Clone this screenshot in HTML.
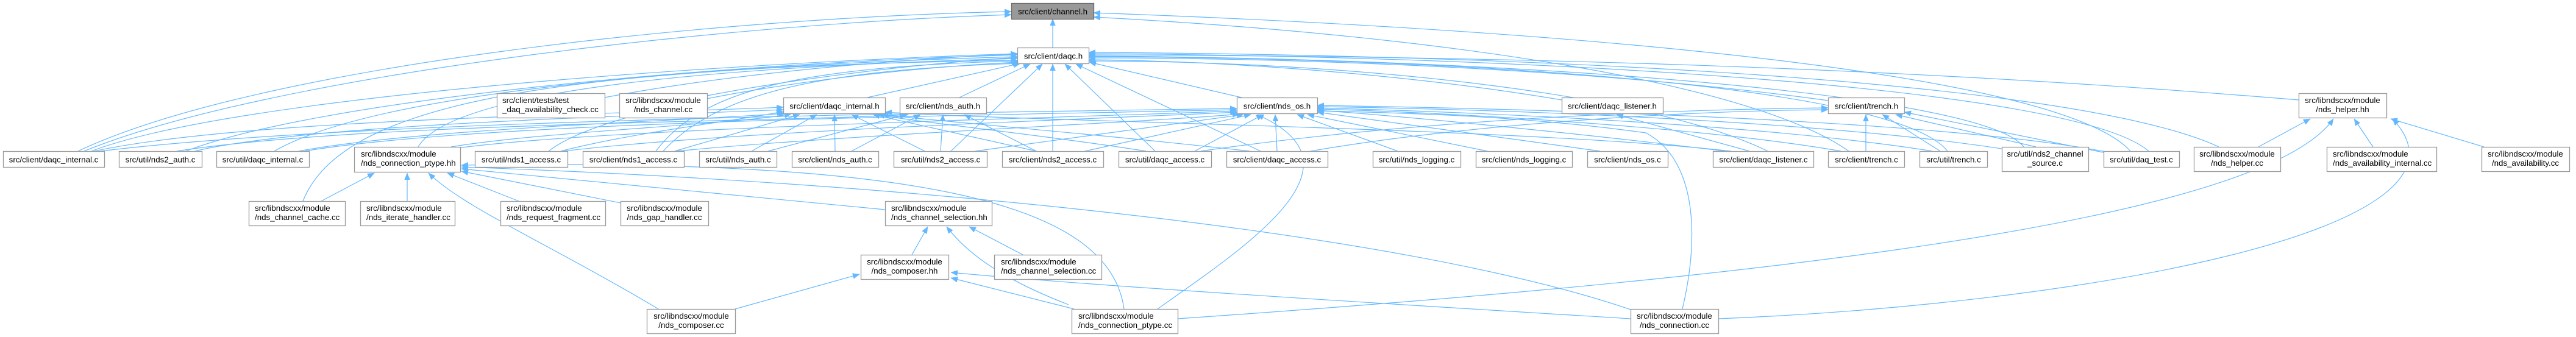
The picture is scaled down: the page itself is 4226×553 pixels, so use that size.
<!DOCTYPE html>
<html>
<head>
<meta charset="utf-8">
<style>
html,body{margin:0;padding:0;background:#fff;}
svg{display:block;}
text{font-family:"Liberation Sans",Arial,sans-serif;font-size:13.33px;fill:#000;}
.b{fill:#fff;stroke:#999;stroke-width:1.3;}
.e{fill:none;stroke:#63b8ff;stroke-width:1.2;marker-end:url(#a);}
</style>
</head>
<body>
<svg width="4226" height="553" viewBox="0 0 4226 553" xmlns="http://www.w3.org/2000/svg">
<defs>
<marker id="a" markerWidth="12" markerHeight="10" refX="11" refY="4.5" orient="auto" markerUnits="userSpaceOnUse">
<path d="M0,0 L11,4.5 L0,9 z" fill="#63b8ff" stroke="#63b8ff" stroke-width="0.5"/>
</marker>
</defs>

<!-- EDGES -->
<g>
<path class="e" d="M1727 78 L1727 31"/>
<path class="e" d="M128 248 C 420 110 1150 30 1659 19"/>
<path class="e" d="M138 248 C 440 125 1170 40 1659 24"/>
<path class="e" d="M3495 248 C 3380 120 2600 50 1794 21"/>
<path class="e" d="M3033 248 C 2880 140 2400 60 1794 28"/>

<path class="e" d="M150 248 C 380 160 1150 105 1669 88"/>
<path class="e" d="M305 248 C 520 165 1150 105 1669 90"/>
<path class="e" d="M450 248 C 620 150 1150 108 1669 93"/>
<path class="e" d="M686 241 C 740 150 1150 110 1669 96"/>
<path class="e" d="M497 330 C 560 170 900 110 1669 99"/>
<path class="e" d="M900 248 C 1000 170 1400 115 1671 102"/>
<path class="e" d="M1076 248 C 1150 150 1300 110 1671 100"/>
<path class="e" d="M1088 248 C 1170 160 1320 115 1673 104"/>
<path class="e" d="M992 160 C 1200 120 1500 95 1669 89"/>
<path class="e" d="M1160 157 C 1300 130 1500 105 1669 94"/>
<path class="e" d="M1423 160 L1674 104"/>
<path class="e" d="M1574 160 L1690 105"/>
<path class="e" d="M1560 248 L1710 105"/>
<path class="e" d="M1727 248 L1727 105"/>
<path class="e" d="M1895 248 L1747 105"/>
<path class="e" d="M2068 248 L1765 105"/>
<path class="e" d="M2037 160 L1787 102"/>
<path class="e" d="M2562 164 C 2300 120 2000 100 1786 98"/>
<path class="e" d="M2999 165 C 2600 110 2100 95 1786 95"/>
<path class="e" d="M3771 164 C 3000 100 2300 92 1786 90"/>
<path class="e" d="M3195 248 C 3110 140 2400 95 1786 93"/>
<path class="e" d="M3320 241 C 3250 150 2450 95 1786 92"/>
<path class="e" d="M3525 248 C 3400 140 2500 92 1786 88"/>
<path class="e" d="M3640 241 C 3400 130 2500 90 1786 86"/>
<path class="e" d="M2900 248 C 2700 150 2200 100 1786 100"/>

<path class="e" d="M155 248 C 400 195 1000 188 1285 176"/>
<path class="e" d="M320 248 C 500 205 1000 192 1285 180"/>
<path class="e" d="M490 248 C 700 210 1100 200 1288 186"/>
<path class="e" d="M740 241 C 900 215 1200 205 1298 187"/>
<path class="e" d="M920 248 C 1050 215 1200 200 1285 183"/>
<path class="e" d="M1107 248 L1312 188"/>
<path class="e" d="M1233 248 L1340 188"/>
<path class="e" d="M1370 248 L1369 188"/>
<path class="e" d="M1517 248 L1397 188"/>
<path class="e" d="M1700 248 L1432 188"/>
<path class="e" d="M1880 248 C 1700 220 1500 200 1440 188"/>
<path class="e" d="M2050 248 C 1800 220 1550 200 1446 188"/>
<path class="e" d="M2840 248 C 2500 210 1700 200 1452 184"/>

<path class="e" d="M290 248 C 600 200 1300 200 1490 188"/>
<path class="e" d="M1260 248 L1487 188"/>
<path class="e" d="M1397 248 L1510 188"/>
<path class="e" d="M1543 248 L1547 188"/>
<path class="e" d="M1700 248 L1582 188"/>

<path class="e" d="M165 248 C 600 195 1600 185 2029 178"/>
<path class="e" d="M500 248 C 800 198 1600 190 2029 180"/>
<path class="e" d="M750 243 C 1000 210 1700 195 2029 182"/>
<path class="e" d="M925 248 C 1200 215 1800 195 2030 184"/>
<path class="e" d="M1110 248 C 1400 220 1900 200 2033 187"/>
<path class="e" d="M1600 248 L2040 188"/>
<path class="e" d="M1780 248 L2052 188"/>
<path class="e" d="M1960 248 L2072 188"/>
<path class="e" d="M2095 248 L2092 188"/>
<path class="e" d="M2293 248 L2128 188"/>
<path class="e" d="M2440 248 L2145 188"/>
<path class="e" d="M2625 248 L2161 184"/>
<path class="e" d="M2830 248 C 2600 220 2300 190 2161 181"/>
<path class="e" d="M3020 248 C 2800 210 2400 185 2161 179"/>
<path class="e" d="M3170 248 C 2900 205 2450 185 2161 177"/>
<path class="e" d="M3290 245 C 3000 200 2500 180 2161 175"/>
<path class="e" d="M3460 250 C 3200 200 2600 180 2161 173"/>
<path class="e" d="M1899 507 C 2050 400 2250 270 2062 188"/>
<path class="e" d="M2760 507 C 2790 380 2780 260 2700 218 C 2500 190 2300 185 2161 182"/>

<path class="e" d="M2870 248 L2652 188"/>
<path class="e" d="M3061 248 L3061 188"/>
<path class="e" d="M3183 248 L3088 188"/>
<path class="e" d="M3340 241 L3110 188"/>
<path class="e" d="M3460 252 L3124 184"/>
<path class="e" d="M1970 248 C 2300 200 2700 180 2999 177"/>
<path class="e" d="M2150 248 C 2400 205 2750 182 2999 180"/>

<path class="e" d="M3705 241 L3790 195"/>
<path class="e" d="M3893 241 L3862 195"/>
<path class="e" d="M4075 241 L3922 195"/>
<path class="e" d="M1932 523 C 2700 470 3700 380 3828 195"/>
<path class="e" d="M2819 523 C 3400 500 4100 380 3925 195"/>

<path class="e" d="M527 330 L614 284"/>
<path class="e" d="M668 330 L668 284"/>
<path class="e" d="M851 330 L734 284"/>
<path class="e" d="M1018 333 L757 281"/>
<path class="e" d="M1452 344 L757 277"/>
<path class="e" d="M2675 508 C 2300 380 1500 300 757 274"/>
<path class="e" d="M1844 507 C 1820 330 1500 260 757 271"/>
<path class="e" d="M1080 507 C 900 400 760 340 703 284"/>
<path class="e" d="M1496 418 L1522 372"/>
<path class="e" d="M1753 500 C 1650 460 1590 420 1553 372"/>
<path class="e" d="M1678 418 L1590 372"/>
<path class="e" d="M1206 507 L1410 450"/>
<path class="e" d="M1762 507 L1560 456"/>
<path class="e" d="M2675 523 C 2300 500 1800 470 1560 447"/>
</g>

<!-- NODES -->
<g>
<rect x="1659.5" y="5.5" width="135" height="26" fill="#999" stroke="#666" stroke-width="1.3"/>
<text x="1727" y="23.3" text-anchor="middle">src/client/channel.h</text>

<rect class="b" x="1669.5" y="78.5" width="117" height="26"/>
<text x="1728" y="96.3" text-anchor="middle">src/client/daqc.h</text>

<!-- Row C -->
<rect class="b" x="815.5" y="153.5" width="177" height="40"/>
<text x="824" y="169">src/client/tests/test</text>
<text x="824" y="184">_daq_availability_check.cc</text>

<rect class="b" x="1016.5" y="153.5" width="144" height="40"/>
<text x="1088" y="169" text-anchor="middle">src/libndscxx/module</text>
<text x="1088" y="184" text-anchor="middle">/nds_channel.cc</text>

<rect class="b" x="1285.5" y="160.5" width="167" height="26"/>
<text x="1369" y="178.3" text-anchor="middle">src/client/daqc_internal.h</text>

<rect class="b" x="1476.5" y="160.5" width="142" height="26"/>
<text x="1547" y="178.3" text-anchor="middle">src/client/nds_auth.h</text>

<rect class="b" x="2029.5" y="160.5" width="132" height="26"/>
<text x="2095" y="178.3" text-anchor="middle">src/client/nds_os.h</text>

<rect class="b" x="2562.5" y="160.5" width="166" height="26"/>
<text x="2645" y="178.3" text-anchor="middle">src/client/daqc_listener.h</text>

<rect class="b" x="2999.5" y="160.5" width="125" height="26"/>
<text x="3062" y="178.3" text-anchor="middle">src/client/trench.h</text>

<rect class="b" x="3771.5" y="153.5" width="144" height="40"/>
<text x="3843" y="169" text-anchor="middle">src/libndscxx/module</text>
<text x="3843" y="184" text-anchor="middle">/nds_helper.hh</text>

<!-- Row D -->
<rect class="b" x="5.5" y="248.5" width="166" height="26"/>
<text x="88" y="266.3" text-anchor="middle">src/client/daqc_internal.c</text>

<rect class="b" x="195.5" y="248.5" width="136" height="26"/>
<text x="263" y="266.3" text-anchor="middle">src/util/nds2_auth.c</text>

<rect class="b" x="355.5" y="248.5" width="152" height="26"/>
<text x="431" y="266.3" text-anchor="middle">src/util/daqc_internal.c</text>

<rect class="b" x="581.5" y="241.5" width="174" height="41"/>
<text x="592" y="257">src/libndscxx/module</text>
<text x="592" y="272">/nds_connection_ptype.hh</text>

<rect class="b" x="779.5" y="248.5" width="152" height="26"/>
<text x="855" y="266.3" text-anchor="middle">src/util/nds1_access.c</text>

<rect class="b" x="956.5" y="248.5" width="166" height="26"/>
<text x="1039" y="266.3" text-anchor="middle">src/client/nds1_access.c</text>

<rect class="b" x="1147.5" y="248.5" width="127" height="26"/>
<text x="1211" y="266.3" text-anchor="middle">src/util/nds_auth.c</text>

<rect class="b" x="1299.5" y="248.5" width="142" height="26"/>
<text x="1370" y="266.3" text-anchor="middle">src/client/nds_auth.c</text>

<rect class="b" x="1466.5" y="248.5" width="153" height="26"/>
<text x="1543" y="266.3" text-anchor="middle">src/util/nds2_access.c</text>

<rect class="b" x="1644.5" y="248.5" width="166" height="26"/>
<text x="1727" y="266.3" text-anchor="middle">src/client/nds2_access.c</text>

<rect class="b" x="1835.5" y="248.5" width="152" height="26"/>
<text x="1911" y="266.3" text-anchor="middle">src/util/daqc_access.c</text>

<rect class="b" x="2012.5" y="248.5" width="166" height="26"/>
<text x="2095" y="266.3" text-anchor="middle">src/client/daqc_access.c</text>

<rect class="b" x="2252.5" y="248.5" width="144" height="26"/>
<text x="2324" y="266.3" text-anchor="middle">src/util/nds_logging.c</text>

<rect class="b" x="2421.5" y="248.5" width="158" height="26"/>
<text x="2500" y="266.3" text-anchor="middle">src/client/nds_logging.c</text>

<rect class="b" x="2604.5" y="248.5" width="132" height="26"/>
<text x="2670" y="266.3" text-anchor="middle">src/client/nds_os.c</text>

<rect class="b" x="2810.5" y="248.5" width="165" height="26"/>
<text x="2893" y="266.3" text-anchor="middle">src/client/daqc_listener.c</text>

<rect class="b" x="2999.5" y="248.5" width="125" height="26"/>
<text x="3062" y="266.3" text-anchor="middle">src/client/trench.c</text>

<rect class="b" x="3149.5" y="248.5" width="111" height="26"/>
<text x="3205" y="266.3" text-anchor="middle">src/util/trench.c</text>

<rect class="b" x="3284.5" y="241.5" width="142" height="40"/>
<text x="3355" y="257" text-anchor="middle">src/util/nds2_channel</text>
<text x="3355" y="272" text-anchor="middle">_source.c</text>

<rect class="b" x="3451.5" y="248.5" width="124" height="26"/>
<text x="3513" y="266.3" text-anchor="middle">src/util/daq_test.c</text>

<rect class="b" x="3599.5" y="241.5" width="142" height="40"/>
<text x="3670" y="257" text-anchor="middle">src/libndscxx/module</text>
<text x="3670" y="272" text-anchor="middle">/nds_helper.cc</text>

<rect class="b" x="3817.5" y="241.5" width="180" height="40"/>
<text x="3827" y="257">src/libndscxx/module</text>
<text x="3827" y="272">/nds_availability_internal.cc</text>

<rect class="b" x="4071.5" y="241.5" width="144" height="40"/>
<text x="4143" y="257" text-anchor="middle">src/libndscxx/module</text>
<text x="4143" y="272" text-anchor="middle">/nds_availability.cc</text>

<!-- Row E -->
<rect class="b" x="408.5" y="330.5" width="158" height="40"/>
<text x="418" y="346">src/libndscxx/module</text>
<text x="418" y="361">/nds_channel_cache.cc</text>

<rect class="b" x="591.5" y="330.5" width="155" height="40"/>
<text x="601" y="346">src/libndscxx/module</text>
<text x="601" y="361">/nds_iterate_handler.cc</text>

<rect class="b" x="821.5" y="330.5" width="172" height="40"/>
<text x="831" y="346">src/libndscxx/module</text>
<text x="831" y="361">/nds_request_fragment.cc</text>

<rect class="b" x="1018.5" y="330.5" width="144" height="40"/>
<text x="1090" y="346" text-anchor="middle">src/libndscxx/module</text>
<text x="1090" y="361" text-anchor="middle">/nds_gap_handler.cc</text>

<rect class="b" x="1452.5" y="330.5" width="175" height="40"/>
<text x="1462" y="346">src/libndscxx/module</text>
<text x="1462" y="361">/nds_channel_selection.hh</text>

<!-- Row F -->
<rect class="b" x="1412.5" y="418.5" width="144" height="40"/>
<text x="1484" y="434" text-anchor="middle">src/libndscxx/module</text>
<text x="1484" y="449" text-anchor="middle">/nds_composer.hh</text>

<rect class="b" x="1631.5" y="418.5" width="176" height="40"/>
<text x="1642" y="434">src/libndscxx/module</text>
<text x="1642" y="449">/nds_channel_selection.cc</text>

<!-- Row G -->
<rect class="b" x="1061.5" y="507.5" width="145" height="40"/>
<text x="1134" y="523" text-anchor="middle">src/libndscxx/module</text>
<text x="1134" y="538" text-anchor="middle">/nds_composer.cc</text>

<rect class="b" x="1758.5" y="507.5" width="174" height="40"/>
<text x="1769" y="523">src/libndscxx/module</text>
<text x="1769" y="538">/nds_connection_ptype.cc</text>

<rect class="b" x="2675.5" y="507.5" width="144" height="40"/>
<text x="2747" y="523" text-anchor="middle">src/libndscxx/module</text>
<text x="2747" y="538" text-anchor="middle">/nds_connection.cc</text>
</g>
</svg>
</body>
</html>
